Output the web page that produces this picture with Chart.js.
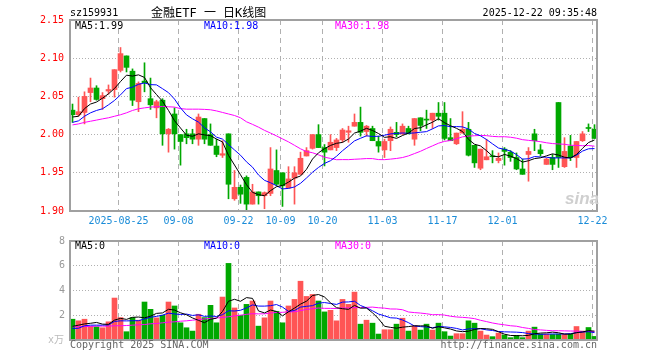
<!DOCTYPE html>
<html><head><meta charset="utf-8">
<script src="https://cdn.jsdelivr.net/npm/chart.js@4.4.1/dist/chart.umd.min.js"></script>
<style>
html,body{margin:0;padding:0;background:#fff;}
#wrap{position:relative;width:660px;height:360px;overflow:hidden;font-family:"DejaVu Sans Mono",monospace;font-size:10px;color:#000;}
.t{position:absolute;white-space:nowrap;line-height:10px;}
canvas{position:absolute;left:0;}
#c1{top:0;}
#c2{top:230px;}
</style></head><body>
<div id="wrap">
<canvas id="c1" width="660" height="230"></canvas>
<canvas id="c2" width="660" height="130"></canvas>
<div class="t" style="left:70px;top:8px;">sz159931</div>
<div class="t" style="left:151px;top:7px;font-size:12px;line-height:12px;font-family:'DejaVu Sans Mono','Noto Sans CJK SC';">金融ETF 一 日K线图</div>
<div class="t" style="right:63px;top:8px;">2025-12-22 09:35:48</div>
<div class="t" style="left:75px;top:21px;">MA5:1.99</div>
<div class="t" style="left:204px;top:21px;color:#0000ff;">MA10:1.98</div>
<div class="t" style="left:335px;top:21px;color:#ff00ff;">MA30:1.98</div>
<div class="t" style="left:75px;top:241px;">MA5:0</div>
<div class="t" style="left:204px;top:241px;color:#0000ff;">MA10:0</div>
<div class="t" style="left:335px;top:241px;color:#ff00ff;">MA30:0</div>
<div class="t" style="left:70px;top:340px;color:#666;">Copyright 2025 SINA.COM</div>
<div class="t" style="right:63px;top:340px;color:#666;">http://finance.sina.com.cn</div>
<div class="t" style="left:48px;top:335px;color:#bbb;font-family:'DejaVu Sans Mono','Noto Sans CJK SC';">x万</div>
<div class="t" style="left:565px;top:190px;color:#cfcfcf;font:italic bold 17px 'Liberation Sans';line-height:17px;">sina</div>
</div>
<script>
const dates = ['08-13','08-14','08-15','08-18','08-19','08-20','08-21','08-22','08-25','08-26','08-27','08-28','08-29',
'09-01','09-02','09-03','09-04','09-05','09-08','09-09','09-10','09-11','09-12','09-15','09-16','09-17','09-18','09-19',
'09-22','09-23','09-24','09-25','09-26','09-29','09-30','10-09','10-10','10-13','10-14','10-15','10-16','10-17',
'10-20','10-21','10-22','10-23','10-24','10-27','10-28','10-29','10-30','10-31','11-03','11-04','11-05','11-06','11-07',
'11-10','11-11','11-12','11-13','11-14','11-17','11-18','11-19','11-20','11-21','11-24','11-25','11-26','11-27','11-28',
'12-01','12-02','12-03','12-04','12-05','12-08','12-09','12-10','12-11','12-12','12-15','12-16','12-17','12-18','12-19','12-22'];
const tickIdx = [8,18,28,35,42,52,62,72,87];
const tickLabels = ['2025-08-25','09-08','09-22','10-09','10-20','11-03','11-17','12-01','12-22'];
const priceTicks = [1.90,1.95,2.00,2.05,2.10,2.15];
const volTicks = [0,2,4,6,8];

const open = [2.032,2.026,2.029,2.055,2.061,2.047,2.057,2.059,2.084,2.103,
2.083,2.043,2.070,2.047,2.035,2.045,2.001,2.027,2.000,2.001,
2.001,1.994,2.021,2.000,1.985,1.973,2.001,1.916,1.931,1.944,
1.909,1.925,1.920,1.923,1.953,1.950,1.930,1.943,1.948,1.972,
1.982,2.000,1.983,1.980,1.983,1.993,2.003,2.011,2.016,2.004,
2.008,1.991,1.980,1.992,2.003,2.001,2.008,1.994,2.022,2.019,
2.019,2.028,2.028,1.996,1.988,2.002,2.007,1.986,1.956,1.967,
1.971,1.966,1.981,1.977,1.970,1.955,1.974,2.001,1.980,1.961,
1.970,2.042,1.958,1.985,1.970,1.992,2.008,2.007];
const high = [2.040,2.049,2.056,2.074,2.064,2.055,2.065,2.085,2.114,2.103,
2.086,2.069,2.094,2.074,2.045,2.047,2.008,2.035,2.000,2.007,
2.007,2.027,2.021,2.014,1.994,1.992,2.001,1.953,1.934,1.946,
1.935,1.925,1.925,1.983,1.980,1.950,1.958,1.958,1.977,1.983,
2.000,2.013,1.987,2.000,1.995,2.008,2.011,2.027,2.036,2.012,
2.011,1.998,1.994,2.010,2.016,2.014,2.011,2.021,2.022,2.032,
2.028,2.042,2.042,2.021,2.002,2.030,2.016,1.986,1.981,1.994,
1.979,1.976,1.983,1.979,1.976,1.968,1.983,2.007,1.987,1.969,
1.974,2.042,1.996,1.999,1.991,2.004,2.014,2.013];
const low = [2.016,2.024,2.014,2.043,2.045,2.033,2.053,2.049,2.082,2.082,
2.038,2.030,2.056,2.033,2.022,1.986,1.977,1.981,1.960,1.988,
1.988,1.986,1.988,1.986,1.971,1.970,1.916,1.914,1.910,1.901,
1.909,1.909,1.903,1.920,1.933,1.906,1.930,1.909,1.948,1.972,
1.981,1.983,1.959,1.980,1.979,1.990,1.990,2.011,1.998,1.998,
1.992,1.977,1.970,1.979,1.997,2.000,2.001,1.986,2.005,2.008,
2.008,2.019,1.993,1.992,1.987,2.002,1.972,1.957,1.954,1.967,
1.963,1.963,1.960,1.965,1.954,1.948,1.939,1.979,1.972,1.961,
1.954,1.957,1.957,1.966,1.957,1.991,2.004,1.995];
const close = [2.026,2.030,2.050,2.061,2.046,2.051,2.059,2.085,2.106,2.088,
2.045,2.067,2.068,2.039,2.043,2.001,2.007,2.001,1.991,1.996,
1.994,2.023,1.994,1.986,1.974,1.975,1.935,1.931,1.922,1.909,
1.925,1.920,1.924,1.955,1.935,1.933,1.942,1.950,1.969,1.979,
2.000,1.983,1.977,1.990,1.993,2.006,2.005,2.016,2.003,2.011,
1.992,1.985,1.991,2.007,2.000,2.011,2.001,2.021,2.012,2.019,
2.028,2.024,1.995,1.992,2.002,2.007,1.973,1.963,1.981,1.971,
1.971,1.969,1.978,1.970,1.955,1.948,1.978,1.992,1.975,1.968,
1.961,1.970,1.978,1.970,1.991,2.001,2.008,1.995];
const volume = [1.68,1.55,1.68,1.12,1.07,0.99,1.47,3.39,1.81,0.67,
1.81,1.60,3.07,2.48,1.79,2.00,3.07,2.75,1.39,0.99,
0.72,2.08,1.81,2.80,1.39,3.47,6.19,2.59,2.00,2.88,
3.15,1.12,1.79,3.15,2.32,1.39,2.75,3.28,4.75,3.52,
3.68,3.15,2.27,2.40,1.55,3.28,2.88,3.87,1.28,1.60,
1.36,0.48,0.83,0.83,1.28,1.76,0.72,1.15,0.80,1.28,
0.80,1.36,0.67,0.32,0.51,0.51,1.55,1.36,0.72,0.40,
0.27,0.56,0.40,0.19,0.37,0.19,0.72,1.04,0.48,0.48,
0.45,0.48,0.48,0.48,1.09,0.72,1.01,0.29];
// moving-average values for days whose window reaches before the first shown day
const ma5Head = [2.023,2.024,2.034,2.040];
const ma10Head = [2.016,2.018,2.024,2.0285,2.0316,2.0338,2.039,2.0447,2.052];
const ma30Head = [2.0127,2.014,2.016,2.0175,2.019,2.0206,2.022,2.024,2.026,2.0285,
2.0316,2.0338,2.035,2.036,2.0364,2.0368,2.0364,2.036,2.034,2.0333,
2.0333,2.0333,2.033,2.0325,2.031,2.029,2.027,2.025,2.022];
const vma5Head = [1.10,1.20,1.30,1.35];
const vma10Head = [0.93,0.95,1.15,1.20,1.20,1.20,1.22,1.50,1.55];
const vma30Head = [1.07,1.07,1.09,1.09,1.12,1.12,1.12,1.15,1.15,1.17,
1.20,1.23,1.25,1.31,1.33,1.39,1.44,1.47,1.52,1.55,
1.60,1.65,1.70,1.74,1.78,1.82,1.88,1.95,2.00];

function movAvg(src, n, head){
  return src.map((_, i) => {
    if (i < n - 1) return head[i];
    let s = 0; for (let k = i - n + 1; k <= i; k++) s += src[k];
    return s / n;
  });
}
const ma5 = movAvg(close,5,ma5Head), ma10 = movAvg(close,10,ma10Head), ma30 = movAvg(close,30,ma30Head);
const vma5 = movAvg(volume,5,vma5Head), vma10 = movAvg(volume,10,vma10Head), vma30 = movAvg(volume,30,vma30Head);

const RED = '#ff5555', GREEN = '#00a800';
const candleColor = close.map((c,i) => c > open[i] ? RED : GREEN);
const pts = arr => arr.map((v,i) => ({x:i, y:v}));

Chart.defaults.font.family = 'DejaVu Sans Mono';
Chart.defaults.font.size = 10;

const frame = {
  id:'frame',
  afterDraw(chart){
    const {ctx, chartArea:a} = chart;
    ctx.save(); ctx.strokeStyle = '#a0a0a0'; ctx.lineWidth = 2;
    ctx.strokeRect(a.left, a.top, a.right - a.left, a.bottom - a.top);
    ctx.restore();
  }
};

function xScale(showLabels){
  return {
    type:'linear', min:-5/12, max:87+5/12, offset:false,
    afterBuildTicks: ax => { ax.ticks = tickIdx.map(i => ({value: i - 1/3})); },
    afterFit: ax => { ax.height = showLabels ? 19 : 20; },
    grid:{color:'#b0b0b0', lineWidth:1, drawTicks:false, offset:false},
    border:{display:false, dash:[5,4]},
    ticks:{display:showLabels, autoSkip:false, maxRotation:0, padding:4, color:'#1a8cd8',
      font:{family:'DejaVu Sans Mono', size:10}, callback:(v,i) => tickLabels[i]}
  };
}
function lineDs(label, data, color){
  return {type:'line', label, data:pts(data), borderColor:color, borderWidth:1, pointRadius:0, tension:0, order:0};
}
const common = {
  responsive:false, animation:false, devicePixelRatio:1, events:[],
  plugins:{legend:{display:false}, tooltip:{enabled:false}}
};

new Chart(document.getElementById('c1'), {
  type:'bar',
  data:{datasets:[
    lineDs('MA5', ma5, '#000000'),
    lineDs('MA10', ma10, '#0000ff'),
    lineDs('MA30', ma30, '#ff00ff'),
    {type:'bar', label:'body', data: open.map((o,i) => ({x:i, y:[o, close[i]]})), backgroundColor:candleColor,
      barThickness:5, minBarLength:1, grouped:false, order:5},
    {type:'bar', label:'wick', data: low.map((l,i) => ({x:i, y:[l, high[i]]})), backgroundColor:candleColor,
      barThickness:1, minBarLength:1, grouped:false, order:6}
  ]},
  options:Object.assign({}, common, {
    layout:{padding:{top:20, right:63, left:0, bottom:0}},
    scales:{
      x:xScale(true),
      y:{min:1.90, max:2.15,
        afterBuildTicks: ax => { ax.ticks = priceTicks.map(v => ({value:v})); },
        afterFit: ax => { ax.width = 70; },
        grid:{color:'#b0b0b0', drawTicks:false},
        border:{display:false, dash:[1,2]},
        ticks:{color:'#ff0000', padding:6, font:{family:'DejaVu Sans Mono', size:10}, callback:v => v.toFixed(2)}
      }
    }
  }),
  plugins:[frame]
});

new Chart(document.getElementById('c2'), {
  type:'bar',
  data:{datasets:[
    lineDs('VMA5', vma5, '#000000'),
    lineDs('VMA10', vma10, '#0000ff'),
    lineDs('VMA30', vma30, '#ff00ff'),
    {type:'bar', label:'vol', data:pts(volume), backgroundColor:candleColor, barThickness:5, grouped:false, order:5}
  ]},
  options:Object.assign({}, common, {
    layout:{padding:{top:10, right:63, left:0, bottom:0}},
    scales:{
      x:xScale(false),
      y:{min:0, max:8,
        afterBuildTicks: ax => { ax.ticks = volTicks.map(v => ({value:v})); },
        afterFit: ax => { ax.width = 70; },
        grid:{color:'#b0b0b0', drawTicks:false},
        border:{display:false, dash:[1,2]},
        ticks:{color:'#999999', padding:5, font:{family:'DejaVu Sans Mono', size:10}, callback:v => v === 0 ? '' : String(v)}
      }
    }
  }),
  plugins:[frame]
});
</script>
</body></html>
